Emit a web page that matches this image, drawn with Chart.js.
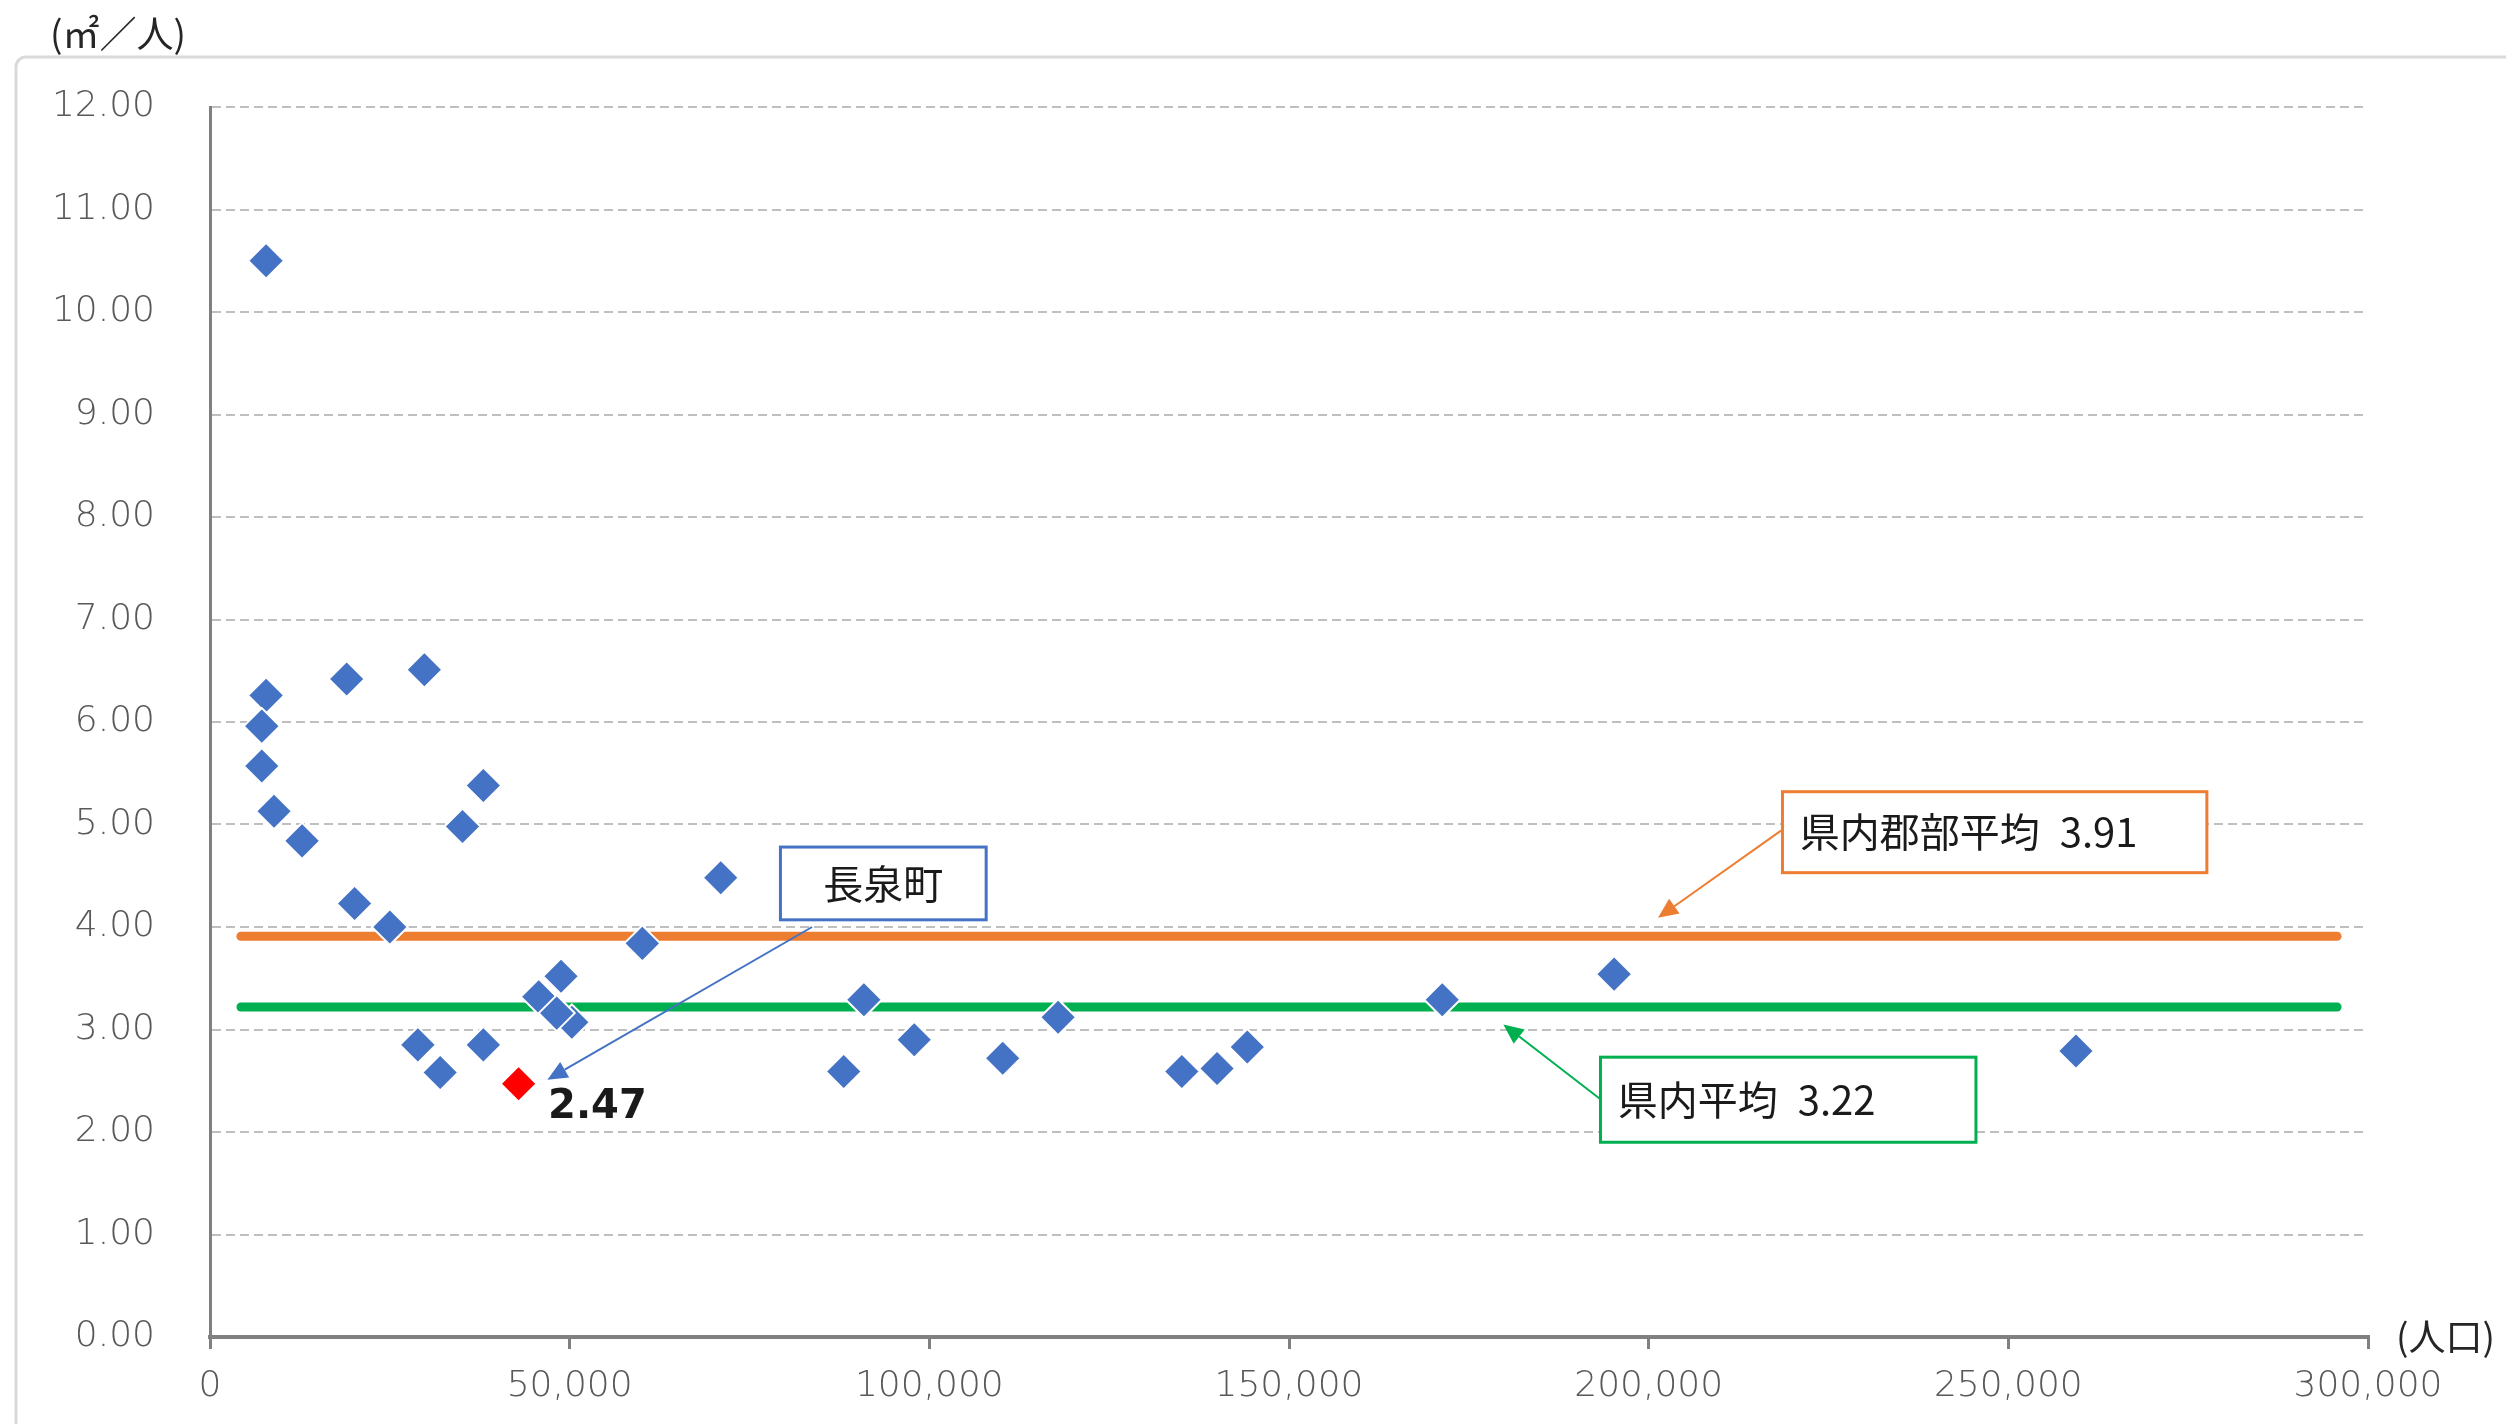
<!DOCTYPE html>
<html>
<head>
<meta charset="utf-8">
<script src="https://cdn.jsdelivr.net/npm/chart.js@4.4.1/dist/chart.umd.min.js"></script>
<style>
  html, body { margin: 0; padding: 0; background: #ffffff; }
  #wrap { width: 2506px; height: 1424px; }
</style>
</head>
<body>
<div id="wrap"><canvas id="c" width="2506" height="1424"></canvas></div>
<script>
// ---- data ----
const populations = [7800, 7800, 7200, 7200, 8900, 12800, 19000, 29800, 20100, 25000,
  38000, 35100, 71000, 60100, 48800, 45700, 50300, 48200, 28900, 32000, 38000,
  88100, 90900, 97900, 110200, 117900, 135100, 140000, 144200, 171300, 195200, 259400];
const areaPerPerson = [10.50, 6.26, 5.96, 5.57, 5.13, 4.84, 6.42, 6.51, 4.23, 4.00,
  5.38, 4.98, 4.48, 3.84, 3.52, 3.32, 3.07, 3.16, 2.85, 2.58, 2.85,
  2.59, 3.29, 2.90, 2.72, 3.12, 2.59, 2.62, 2.83, 3.29, 3.54, 2.79];
const targetName = '長泉町';
const targetPopulation = [42900];
const targetArea = [2.47];
const prefAverage = 3.22;        // 県内平均
const ruralAverage = 3.91;       // 県内郡部平均
const averageLineX = [4300, 295700];
const xTickLabels = ['0', '50,000', '100,000', '150,000', '200,000', '250,000', '300,000'];
const yTickLabels = ['0.00', '1.00', '2.00', '3.00', '4.00', '5.00', '6.00', '7.00', '8.00', '9.00', '10.00', '11.00', '12.00'];
const yUnitLabel = '(㎡／人)';
const xUnitLabel = '(人口)';
const prefAvgLabel = '県内平均';
const ruralAvgLabel = '県内郡部平均';

const scatterPoints = populations.map((p, i) => ({ x: p, y: areaPerPerson[i] }));
const targetPoints = targetPopulation.map((p, i) => ({ x: p, y: targetArea[i] }));
const ruralLine = averageLineX.map(x => ({ x: x, y: ruralAverage }));
const prefLine = averageLineX.map(x => ({ x: x, y: prefAverage }));

const CJK = '"Noto Sans CJK JP", "Noto Sans CJK SC", sans-serif';
const NUM = '"DejaVu Sans", "Liberation Sans", sans-serif';

function arrow(ctx, x1, y1, x2, y2, color) {
  const ang = Math.atan2(y2 - y1, x2 - x1);
  const hl = 20, hw = 9;
  const bx = x2 - hl * Math.cos(ang), by = y2 - hl * Math.sin(ang);
  ctx.save();
  ctx.strokeStyle = color; ctx.fillStyle = color; ctx.lineWidth = 2;
  ctx.beginPath(); ctx.moveTo(x1, y1); ctx.lineTo(bx, by); ctx.stroke();
  ctx.beginPath();
  ctx.moveTo(x2, y2);
  ctx.lineTo(bx + hw * Math.sin(ang), by - hw * Math.cos(ang));
  ctx.lineTo(bx - hw * Math.sin(ang), by + hw * Math.cos(ang));
  ctx.closePath(); ctx.fill();
  ctx.restore();
}

function box(ctx, x1, y1, x2, y2, color) {
  ctx.save();
  ctx.fillStyle = '#ffffff';
  ctx.fillRect(x1, y1, x2 - x1, y2 - y1);
  ctx.strokeStyle = color; ctx.lineWidth = 3;
  ctx.strokeRect(x1, y1, x2 - x1, y2 - y1);
  ctx.restore();
}

const overlay = {
  id: 'overlay',
  beforeDraw(chart) {
    const ctx = chart.ctx;
    ctx.save();
    ctx.fillStyle = '#ffffff';
    ctx.fillRect(0, 0, chart.width, chart.height);
    ctx.strokeStyle = '#DADADA'; ctx.lineWidth = 3;
    ctx.beginPath();
    if (ctx.roundRect) ctx.roundRect(16, 57, 2700, 1500, 10); else ctx.rect(16, 57, 2700, 1500);
    ctx.stroke();
    ctx.fillStyle = '#262626';
    ctx.font = '37px ' + CJK;
    ctx.textBaseline = 'middle'; ctx.textAlign = 'left';
    ctx.fillText(yUnitLabel, 50, 34);
    ctx.restore();
  },
  afterDatasetsDraw(chart) {
    const ctx = chart.ctx;
    const X = v => chart.scales.x.getPixelForValue(v);
    const Y = v => chart.scales.y.getPixelForValue(v);
    ctx.save();
    // 長泉町 callout
    arrow(ctx, X(83700), Y(4.00), X(46900), Y(2.51), '#4472C4');
    box(ctx, X(79300), Y(4.78), X(107900), Y(4.07), '#4472C4');
    ctx.fillStyle = '#1a1a1a';
    ctx.font = '40px ' + CJK;
    ctx.textBaseline = 'middle'; ctx.textAlign = 'center';
    ctx.fillText(targetName, (X(79300) + X(107900)) / 2, (Y(4.78) + Y(4.07)) / 2);
    // value label
    ctx.font = 'bold 40px ' + NUM;
    ctx.textAlign = 'left';
    ctx.fillStyle = '#1a1a1a';
    ctx.fillText(targetArea[0].toFixed(2), X(47000), Y(2.24));
    // 県内郡部平均 callout
    arrow(ctx, X(218400), Y(4.94), X(201300), Y(4.09), '#ED7D31');
    box(ctx, X(218600), Y(5.32), X(277600), Y(4.53), '#ED7D31');
    ctx.font = '40px ' + CJK;
    ctx.fillStyle = '#1a1a1a';
    ctx.fillText(ruralAvgLabel + '\u2002' + ruralAverage.toFixed(2), X(221000), (Y(5.32) + Y(4.53)) / 2);
    // 県内平均 callout
    arrow(ctx, X(193300), Y(2.32), X(179800), Y(3.05), '#00B050');
    box(ctx, X(193300), Y(2.73), X(245500), Y(1.90), '#00B050');
    ctx.fillText(prefAvgLabel + '\u2002' + prefAverage.toFixed(2), X(195700), (Y(2.73) + Y(1.90)) / 2);
    ctx.restore();
  },
  afterDraw(chart) {
    const ctx = chart.ctx;
    ctx.save();
    ctx.fillStyle = '#262626';
    ctx.font = '37px ' + CJK;
    ctx.textBaseline = 'middle'; ctx.textAlign = 'left';
    ctx.fillText(xUnitLabel, chart.chartArea.right + 28, chart.chartArea.bottom);
    ctx.restore();
  }
};

new Chart(document.getElementById('c'), {
  type: 'scatter',
  data: {
    datasets: [
      { label: targetName, data: targetPoints, order: 0,
        pointStyle: 'rectRot', pointRadius: 18, pointHoverRadius: 18,
        backgroundColor: '#FF0000', borderColor: '#ffffff', borderWidth: 2 },
      { label: 'cities', data: scatterPoints, order: 1,
        pointStyle: 'rectRot', pointRadius: 18, pointHoverRadius: 18,
        backgroundColor: '#4472C4', borderColor: '#ffffff', borderWidth: 2 },
      { label: ruralAvgLabel, data: ruralLine, order: 2, showLine: true,
        borderColor: '#ED7D31', borderWidth: 9, borderCapStyle: 'round', pointRadius: 0, pointHoverRadius: 0 },
      { label: prefAvgLabel, data: prefLine, order: 3, showLine: true,
        borderColor: '#00B050', borderWidth: 9, borderCapStyle: 'round', pointRadius: 0, pointHoverRadius: 0 }
    ]
  },
  options: {
    responsive: false,
    animation: false,
    devicePixelRatio: 1,
    layout: { padding: { top: 107, right: 138, left: 0, bottom: 0 } },
    plugins: { legend: { display: false }, tooltip: { enabled: false } },
    scales: {
      x: {
        type: 'linear', min: 0, max: 300000,
        afterFit: s => { s.height = 87; },
        afterBuildTicks: s => { s.ticks = xTickLabels.map((_, i) => ({ value: i * 50000 })); },
        grid: { drawOnChartArea: false, drawTicks: true, tickLength: 12, color: '#808080', lineWidth: 3 },
        border: { display: true, color: '#808080', width: 4 },
        ticks: { padding: 16, color: '#595959', font: { family: NUM, size: 36, weight: '200' },
                 maxRotation: 0, autoSkip: false,
                 callback: (v, i) => xTickLabels[i] }
      },
      y: {
        type: 'linear', min: 0, max: 12,
        afterFit: s => { s.width = 210; },
        afterBuildTicks: s => { s.ticks = yTickLabels.map((_, i) => ({ value: i })); },
        grid: { drawTicks: false, tickLength: 0, color: '#BFBFBF', lineWidth: 2 },
        border: { display: true, color: '#808080', width: 3, dash: [9, 5] },
        ticks: { padding: 55, color: '#595959', font: { family: NUM, size: 36, weight: '200' },
                 autoSkip: false,
                 callback: (v, i) => yTickLabels[i] }
      }
    }
  },
  plugins: [overlay]
});
</script>
</body>
</html>
